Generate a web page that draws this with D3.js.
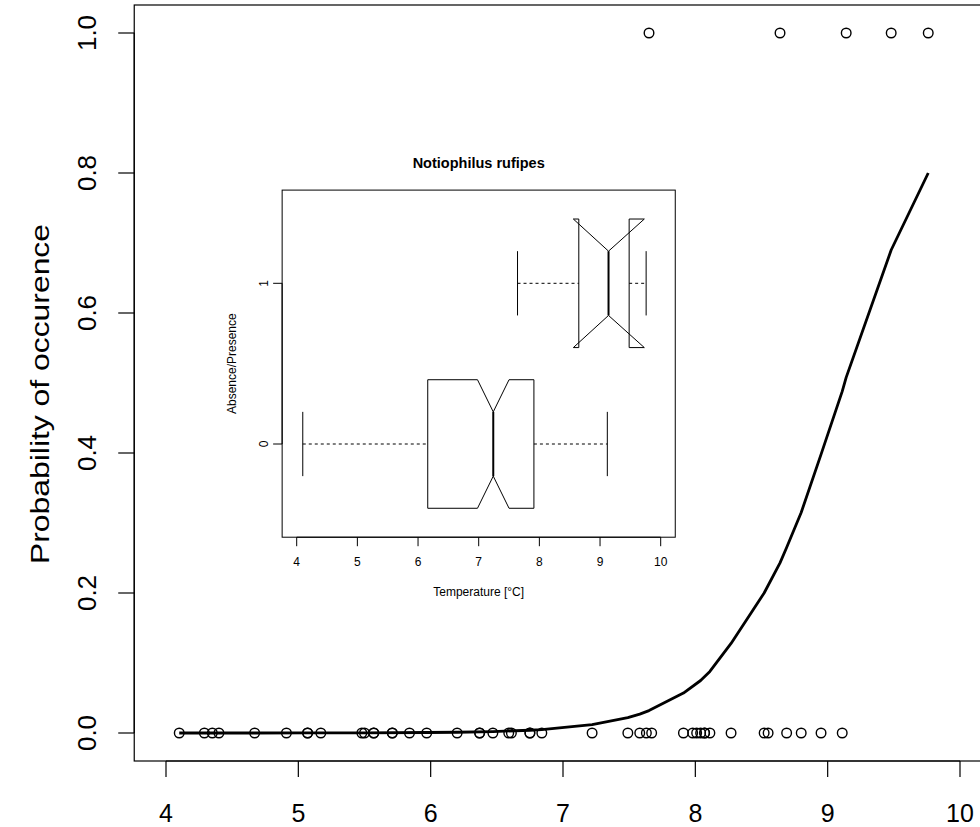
<!DOCTYPE html>
<html>
<head>
<meta charset="utf-8">
<script src="https://cdn.jsdelivr.net/npm/d3@7"></script>
<style>
  body { margin: 0; background: #fff; }
  svg { display: block; font-family: "Liberation Sans", Arial, sans-serif; }
</style>
</head>
<body>
<svg id="chart" width="980" height="827"></svg>
<script>
// observed temperatures, absence (0) and presence (1)
var absentTemp = [4.10, 4.29, 4.35, 4.40, 4.67, 4.91, 5.07, 5.07, 5.17, 5.48, 5.50, 5.57, 5.57,
  5.71, 5.71, 5.84, 5.97, 6.20, 6.37, 6.37, 6.47, 6.59, 6.61, 6.75, 6.75, 6.84, 7.22, 7.49,
  7.58, 7.63, 7.67, 7.91, 7.98, 8.01, 8.04, 8.07, 8.07, 8.11, 8.27, 8.52, 8.55, 8.69, 8.80,
  8.95, 9.11];
var presentTemp = [7.65, 8.64, 9.14, 9.48, 9.76];

// fitted logistic curve
var fitTemp = [4.10, 4.67, 5.07, 5.50, 5.97, 6.20, 6.47, 6.75, 6.84, 7.22, 7.49, 7.58, 7.65,
  7.91, 8.04, 8.11, 8.27, 8.52, 8.64, 8.69, 8.80, 8.95, 9.11, 9.14, 9.48, 9.76];
var fitProb = [0.0000, 0.0000, 0.0001, 0.0002, 0.0007, 0.0011, 0.0021, 0.0039, 0.0048, 0.0120,
  0.022, 0.027, 0.032, 0.057, 0.075, 0.088, 0.128, 0.200, 0.243, 0.265, 0.315, 0.398, 0.488,
  0.508, 0.690, 0.800];

var xTicks = [4, 5, 6, 7, 8, 9, 10];
var yTicks = [0, 0.2, 0.4, 0.6, 0.8, 1.0];

// inset boxplot stats (notched, horizontal)
var boxGroups = ["0", "1"];
var boxLower = [4.10, 7.64];
var boxQ1 = [6.16, 8.65];
var boxMedian = [7.24, 9.14];
var boxQ3 = [7.91, 9.48];
var boxUpper = [9.12, 9.76];
var notchLo = [6.98, 8.56];
var notchHi = [7.50, 9.73];

var svg = d3.select("#chart");

/************
 *  main plot
 ************/
var x = d3.scaleLinear().domain([4, 10]).range([166, 960]);
var y = d3.scaleLinear().domain([0, 1]).range([733, 33]);
var frameL = x(3.76), frameR = x(10.24), frameT = y(1.04), frameB = y(-0.04);

svg.append("rect")
  .attr("x", frameL).attr("y", frameT)
  .attr("width", frameR - frameL).attr("height", frameB - frameT)
  .attr("fill", "none").attr("stroke", "#000").attr("stroke-width", 1.2);

// x axis
var xa = svg.append("g");
xa.append("line").attr("x1", x(4)).attr("x2", x(10)).attr("y1", frameB).attr("y2", frameB)
  .attr("stroke", "#000").attr("stroke-width", 1.2);
xa.selectAll(".xt").data(xTicks).enter().append("line").attr("class", "xt")
  .attr("x1", d => x(d)).attr("x2", d => x(d)).attr("y1", frameB).attr("y2", frameB + 16)
  .attr("stroke", "#000").attr("stroke-width", 1.2);
xa.selectAll(".xl").data(xTicks).enter().append("text").attr("class", "xl")
  .attr("x", d => x(d)).attr("y", 821.5).attr("text-anchor", "middle")
  .attr("font-size", 25).text(d => d);

// y axis
var ya = svg.append("g");
ya.append("line").attr("x1", frameL).attr("x2", frameL).attr("y1", y(0)).attr("y2", y(1))
  .attr("stroke", "#000").attr("stroke-width", 1.2);
ya.selectAll(".yt").data(yTicks).enter().append("line").attr("class", "yt")
  .attr("x1", frameL - 16).attr("x2", frameL).attr("y1", d => y(d)).attr("y2", d => y(d))
  .attr("stroke", "#000").attr("stroke-width", 1.2);
ya.selectAll(".yl").data(yTicks).enter().append("text").attr("class", "yl")
  .attr("transform", d => `translate(87 ${y(d)}) rotate(-90)`)
  .attr("dy", "0.35em").attr("text-anchor", "middle")
  .attr("font-size", 26).text(d => d.toFixed(1));

svg.append("text")
  .attr("transform", `translate(40 394) rotate(-90)`)
  .attr("dy", "0.35em").attr("text-anchor", "middle").attr("font-size", 26)
  .attr("textLength", 340).attr("lengthAdjust", "spacingAndGlyphs")
  .text("Probability of occurence");

// points
var pts = absentTemp.map(t => ({t: t, p: 0})).concat(presentTemp.map(t => ({t: t, p: 1})));
svg.selectAll(".pt").data(pts).enter().append("circle").attr("class", "pt")
  .attr("cx", d => x(d.t)).attr("cy", d => y(d.p)).attr("r", 4.8)
  .attr("fill", "none").attr("stroke", "#000").attr("stroke-width", 1.4);

// fitted curve
var line = d3.line().x(d => x(d[0])).y(d => y(d[1]));
svg.append("path").datum(fitTemp.map((t, i) => [t, fitProb[i]]))
  .attr("d", line).attr("fill", "none").attr("stroke", "#000")
  .attr("stroke-width", 2.8).attr("stroke-linejoin", "round");

/************
 *  inset boxplot
 ************/
var ix = d3.scaleLinear().domain([4, 10]).range([296.7, 660.7]);
var iy = d3.scaleLinear().domain([1, 2]).range([444, 283.3]);
var iL = ix(3.76), iR = ix(10.24), iT = iy(2.58), iB = iy(0.42);

var inset = svg.append("g");
inset.append("rect").attr("x", iL).attr("y", iT).attr("width", iR - iL).attr("height", iB - iT)
  .attr("fill", "none").attr("stroke", "#000").attr("stroke-width", 1);

inset.append("text").attr("x", (iL + iR) / 2).attr("y", 168).attr("text-anchor", "middle")
  .attr("font-size", 14.5).attr("font-weight", "bold").text("Notiophilus rufipes");

inset.append("line").attr("x1", ix(4)).attr("x2", ix(10)).attr("y1", iB).attr("y2", iB)
  .attr("stroke", "#000");
inset.selectAll(".ixt").data(xTicks).enter().append("line").attr("class", "ixt")
  .attr("x1", d => ix(d)).attr("x2", d => ix(d)).attr("y1", iB).attr("y2", iB + 9)
  .attr("stroke", "#000");
inset.selectAll(".ixl").data(xTicks).enter().append("text").attr("class", "ixl")
  .attr("x", d => ix(d)).attr("y", 566).attr("text-anchor", "middle")
  .attr("font-size", 12).text(d => d);
inset.append("text").attr("x", (iL + iR) / 2).attr("y", 596).attr("text-anchor", "middle")
  .attr("font-size", 12).text("Temperature [°C]");

inset.append("line").attr("x1", iL).attr("x2", iL).attr("y1", iy(1)).attr("y2", iy(2))
  .attr("stroke", "#000");
inset.selectAll(".iyt").data(boxGroups).enter().append("line").attr("class", "iyt")
  .attr("x1", iL - 9).attr("x2", iL).attr("y1", (d, i) => iy(i + 1)).attr("y2", (d, i) => iy(i + 1))
  .attr("stroke", "#000");
inset.selectAll(".iyl").data(boxGroups).enter().append("text").attr("class", "iyl")
  .attr("transform", (d, i) => `translate(264 ${iy(i + 1)}) rotate(-90)`)
  .attr("dy", "0.35em").attr("text-anchor", "middle").attr("font-size", 12).text(d => d);
inset.append("text")
  .attr("transform", `translate(232 ${(iT + iB) / 2}) rotate(-90)`)
  .attr("dy", "0.35em").attr("text-anchor", "middle").attr("font-size", 12)
  .text("Absence/Presence");

var hw = 0.4, sw = 0.2, nw = 0.2;
var boxes = boxGroups.map((g, i) => ({
  pos: i + 1, lo: boxLower[i], q1: boxQ1[i], med: boxMedian[i], q3: boxQ3[i],
  hi: boxUpper[i], nlo: notchLo[i], nhi: notchHi[i]
}));

var bg = inset.selectAll(".box").data(boxes).enter().append("g").attr("class", "box");
// whiskers
bg.append("line").attr("x1", d => ix(d.lo)).attr("x2", d => ix(d.q1))
  .attr("y1", d => iy(d.pos)).attr("y2", d => iy(d.pos))
  .attr("stroke", "#000").attr("stroke-dasharray", "3,3");
bg.append("line").attr("x1", d => ix(d.q3)).attr("x2", d => ix(d.hi))
  .attr("y1", d => iy(d.pos)).attr("y2", d => iy(d.pos))
  .attr("stroke", "#000").attr("stroke-dasharray", "3,3");
// staples
bg.append("line").attr("x1", d => ix(d.lo)).attr("x2", d => ix(d.lo))
  .attr("y1", d => iy(d.pos - sw)).attr("y2", d => iy(d.pos + sw)).attr("stroke", "#000");
bg.append("line").attr("x1", d => ix(d.hi)).attr("x2", d => ix(d.hi))
  .attr("y1", d => iy(d.pos - sw)).attr("y2", d => iy(d.pos + sw)).attr("stroke", "#000");
// notched box
bg.append("path").attr("d", d => {
  var p = d.pos;
  var pts = [[d.q1, p + hw], [d.nlo, p + hw], [d.med, p + nw], [d.nhi, p + hw], [d.q3, p + hw],
    [d.q3, p - hw], [d.nhi, p - hw], [d.med, p - nw], [d.nlo, p - hw], [d.q1, p - hw]];
  return "M" + pts.map(q => ix(q[0]) + "," + iy(q[1])).join("L") + "Z";
}).attr("fill", "none").attr("stroke", "#000");
// median
bg.append("line").attr("x1", d => ix(d.med)).attr("x2", d => ix(d.med))
  .attr("y1", d => iy(d.pos - nw)).attr("y2", d => iy(d.pos + nw))
  .attr("stroke", "#000").attr("stroke-width", 2);
</script>
</body>
</html>
